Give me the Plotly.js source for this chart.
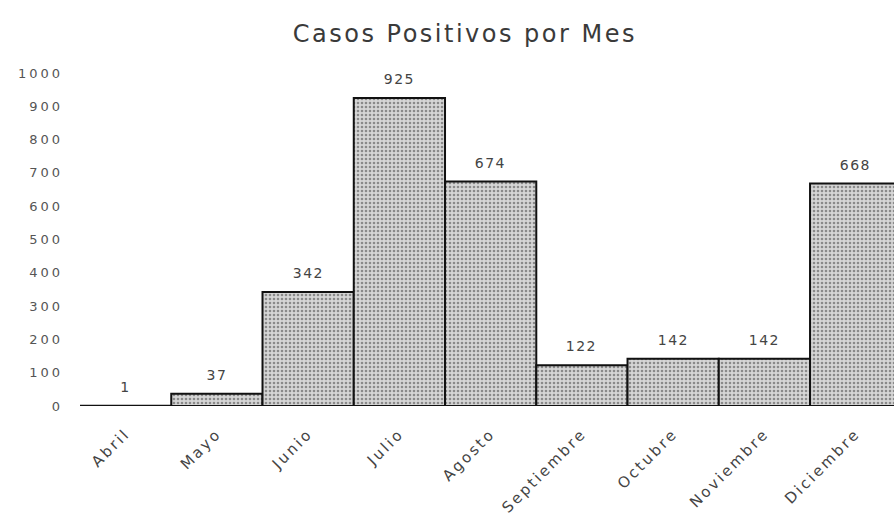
<!DOCTYPE html>
<html>
<head>
<meta charset="utf-8">
<script src="https://cdn.plot.ly/plotly-3.0.1.min.js"></script>
<style>
html,body{margin:0;padding:0;background:#fff;}
#chart{width:894px;height:518px;}
#chart .gtitle{letter-spacing:2.5px;}
#chart .ytick text{letter-spacing:3px;}
#chart .xtick text{letter-spacing:2.5px;}
#chart .annotation-text{letter-spacing:1.5px;}
</style>
</head>
<body>
<div id="chart"></div>
<script>
const months = ["Abril","Mayo","Junio","Julio","Agosto","Septiembre","Octubre","Noviembre","Diciembre"];
const cases = [1, 37, 342, 925, 674, 122, 142, 142, 668];
const yTicks = [0,100,200,300,400,500,600,700,800,900,1000];

const FONT = "DejaVu Sans, sans-serif";

const trace = {
  type: "bar",
  x: months,
  y: cases,
  marker: {
    color: "#c4c4c4",
    line: {color: "#111", width: 2},
    pattern: {shape: ".", fgcolor: "#8a8a8a", bgcolor: "#d6d6d6", size: 4, solidity: 0.33}
  },
  hoverinfo: "none"
};

const annotations = months.map((m, i) => ({
  x: m, y: cases[i], xref: "x", yref: "y",
  text: String(cases[i]), showarrow: false,
  yanchor: "bottom", yshift: 9,
  font: {family: FONT, size: 14, color: "#444"}
}));

const layout = {
  width: 894, height: 518,
  margin: {l: 80, r: 0, t: 73, b: 112},
  paper_bgcolor: "#fff", plot_bgcolor: "#fff",
  bargap: 0,
  showlegend: false,
  annotations: annotations,
  title: {text: "Casos Positivos por Mes", x: 0.52, xanchor: "center", y: 0.935, yanchor: "middle",
          font: {family: FONT, size: 24, color: "#3a3a3a"}},
  xaxis: {
    type: "category",
    range: [-0.5, 8.42],
    tickangle: -45,
    tickfont: {family: FONT, size: 15, color: "#444"},
    ticklabelstandoff: 15,
    showgrid: false, zeroline: false, showline: false, ticks: ""
  },
  yaxis: {
    range: [0, 1000],
    tickvals: yTicks,
    ticktext: yTicks.map(String),
    tickfont: {family: FONT, size: 13, color: "#555"},
    ticklabelstandoff: 16,
    showgrid: false, zeroline: false, showline: false, ticks: ""
  },
  font: {family: FONT}
};

Plotly.newPlot("chart", [trace], layout, {displayModeBar: false, staticPlot: true});
</script>
</body>
</html>
